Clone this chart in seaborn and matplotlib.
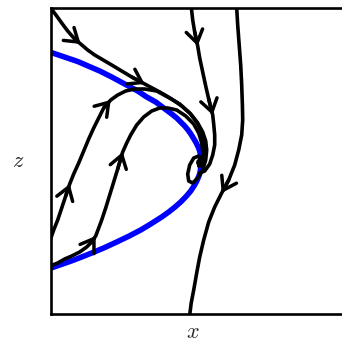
import seaborn as sns
import matplotlib.pyplot as plt
import pandas as pd

## curve data (x, z in arbitrary phase-plane units)
nullcline_x = [-1, 27, 49, 61, 74, 87, 96, 105, 113, 121, 126, 130, 134, 136.5, 139.5, 142,
               145, 147.5, 149, 149.8, 150.5, 149.6, 148.9, 147.8, 145.6, 143.3, 140, 135.8,
               130, 124.3, 118, 111, 100, 90, 78.5, 66, 53, 41, 31, 20.5, -1]
nullcline_z = [262, 252.5, 243, 237, 230, 223, 217, 212, 206, 200, 196, 192, 188, 185, 181,
               177, 172, 167, 163, 159, 151, 143, 140, 137, 132, 128, 123, 118,
               112, 107, 102, 97, 90, 84, 78, 72, 66, 61, 57, 53, 45.5]

traj_a_x = [0, 6, 11, 17, 24, 30, 37, 44, 61, 81, 94, 109, 121, 131, 140, 147, 152, 155, 156,
            155, 152, 147, 142, 138, 137, 139, 143, 148, 151, 151, 148]
traj_a_z = [306, 298, 291, 283, 275, 270, 264, 259, 249, 237, 230, 222, 215, 208, 200, 191, 182,
            173, 164, 154, 144, 136, 131, 133, 140, 149, 156, 158, 154, 149, 148]

traj_b_x = [-0.5, 3, 7, 11, 15, 19, 23, 28, 33, 38, 43, 48, 53, 60, 67, 75, 84, 94, 106, 117,
            129, 139, 146, 151, 153.5, 153.5, 151.5]
traj_b_z = [74, 84, 94, 106, 118, 130, 140, 151, 163, 175, 186, 196, 206, 214, 219, 223, 225,
            225, 223, 217, 210, 201, 192, 182, 172, 163, 155]

traj_c_x = [-0.5, 7, 14, 21, 29, 36, 41, 45, 48, 51, 55, 59, 63, 67, 72, 76, 80, 86, 93, 101,
            109, 117, 126, 135, 143, 148, 151, 152]
traj_c_z = [48, 51, 55, 58, 62, 67, 72, 78, 86, 94, 106, 119, 132, 145, 162, 171, 179, 189, 197,
            203, 206, 206, 204, 198, 190, 181, 171, 162]

traj_d_x = [140.7, 142, 144, 147, 149, 152, 155, 158, 162, 163, 164, 164, 162, 159, 154, 149]
traj_d_z = [306, 294, 282, 268, 256, 242, 228, 215, 199, 190, 179, 169, 159, 150, 143, 141]

traj_e_x = [186, 187, 188.5, 190, 191, 191.7, 192, 191, 188, 184, 178, 171, 164, 158, 153, 149,
            146, 143, 140.5, 139]
traj_e_z = [306, 289, 269, 249, 229, 209, 194, 179, 164, 149, 134, 121, 107, 92, 74, 57, 41, 24,
            11, -1]

# which point of each trajectory carries an arrow head
arrow_idx = {"a": [5, 10], "b": [5, 13], "c": [7, 14], "d": [3, 8], "e": [11]}

focus_x = [149.5]
focus_z = [152]

trajs = {"a": (traj_a_x, traj_a_z), "b": (traj_b_x, traj_b_z), "c": (traj_c_x, traj_c_z),
         "d": (traj_d_x, traj_d_z), "e": (traj_e_x, traj_e_z)}

rows = []
for name, (xs, zs) in trajs.items():
    for i, (xv, zv) in enumerate(zip(xs, zs)):
        rows.append({"traj": name, "i": i, "x": xv, "z": zv})
df = pd.DataFrame(rows)
null_df = pd.DataFrame({"x": nullcline_x, "z": nullcline_z})

sns.set_style("white")
plt.rcParams.update({"mathtext.fontset": "cm"})

fig = plt.figure(figsize=(3.42, 3.45), dpi=100)
ax = fig.add_axes([50.7 / 342, 31 / 345, 306 / 342, 306 / 345])

#--nullcline
sns.lineplot(data=null_df, x="x", y="z", sort=False, estimator=None, color=(0, 0, 1),
             linewidth=4.0, ax=ax, solid_capstyle="butt", solid_joinstyle="round")

#--trajectories
sns.lineplot(data=df, x="x", y="z", units="traj", sort=False, estimator=None, color="black",
             linewidth=2.6, ax=ax, solid_capstyle="round", solid_joinstyle="round")

ax.scatter(focus_x, focus_z, s=28, color="black", zorder=5)

#--arrow heads
for name, idxs in arrow_idx.items():
    xs, zs = trajs[name]
    for i in idxs:
        ax.annotate("", xy=(xs[i], zs[i]), xytext=(xs[i - 1], zs[i - 1]),
                    arrowprops=dict(arrowstyle="->,head_length=0.45,head_width=0.3",
                                    lw=2.5, color="black", mutation_scale=20,
                                    shrinkA=0, shrinkB=0))

ax.set_xlim(0, 306)
ax.set_ylim(0, 306)
ax.set_xticks([])
ax.set_yticks([])
for side in ["left", "top", "bottom", "right"]:
    ax.spines[side].set_color("black")
    ax.spines[side].set_linewidth(1.9)

ax.set_xlabel("$x$", fontsize=16, va="center")
ax.set_ylabel("$z$", fontsize=16, rotation=0, ha="center", va="center")
ax.xaxis.set_label_coords(0.465, -0.058)
ax.yaxis.set_label_coords(-0.107, 0.5)

fig.savefig("out.png", dpi=100)
plt.close()
